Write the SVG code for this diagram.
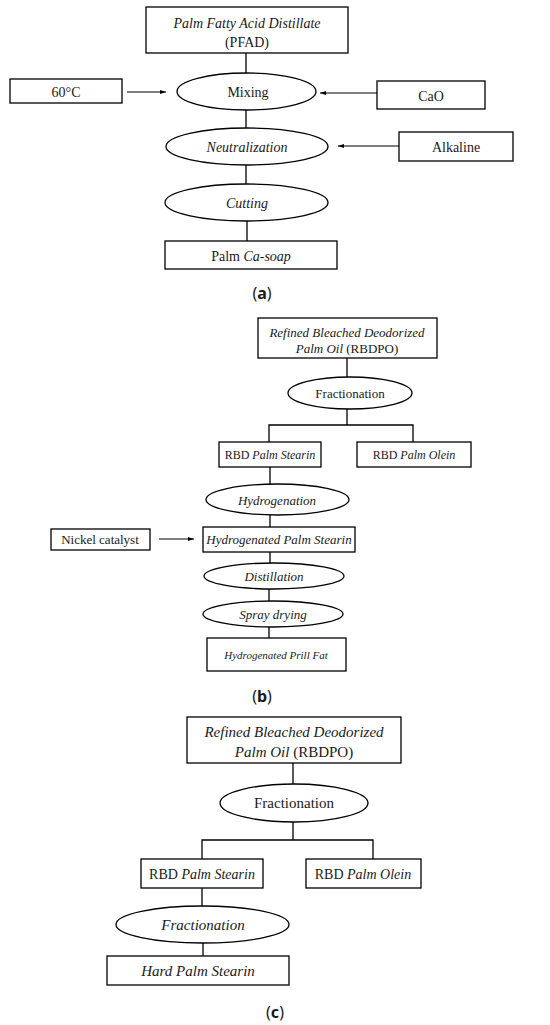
<svg xmlns="http://www.w3.org/2000/svg" width="550" height="1025" viewBox="0 0 550 1025">
<defs>
<marker id="ah" viewBox="0 0 10 10" refX="10" refY="5" markerWidth="6" markerHeight="6" orient="auto" markerUnits="userSpaceOnUse">
<path d="M0,1.5 L10,5 L0,8.5 Z" fill="#000"/>
</marker>
</defs>
<style>
.n{fill:#fff;stroke:#000;stroke-width:1.3}
.c{fill:none;stroke:#000;stroke-width:1.3}
.a{fill:none;stroke:#000;stroke-width:1.2;marker-end:url(#ah)}
text{font-family:"Liberation Serif","Times New Roman",serif;fill:#1a1a1a;text-anchor:middle;dominant-baseline:central}
.i{font-style:italic}
.s14{font-size:14px}
.s13{font-size:13px}
.s12{font-size:12px}
.s11{font-size:11px}
.s15{font-size:15px}
.lab{font-family:"Noto Sans","DejaVu Sans",sans-serif;font-size:16px}
</style>
<rect width="550" height="1025" fill="#fff"/>
<g id="connectors">
<!-- (a) -->
<line class="c" x1="246" y1="53" x2="246" y2="73"/>
<line class="c" x1="246" y1="110" x2="246" y2="128"/>
<line class="c" x1="246" y1="165" x2="246" y2="184"/>
<line class="c" x1="247" y1="221" x2="247" y2="241"/>
<line class="a" x1="127" y1="92" x2="166" y2="92"/>
<line class="a" x1="377" y1="93" x2="320" y2="93"/>
<line class="a" x1="399" y1="146" x2="338" y2="146"/>
<!-- (b) -->
<line class="c" x1="347" y1="358" x2="347" y2="377"/>
<line class="c" x1="347" y1="409" x2="347" y2="425"/>
<polyline class="c" points="269,442 269,425 413,425 413,442"/>
<line class="c" x1="270" y1="467" x2="270" y2="484"/>
<line class="c" x1="270" y1="515" x2="270" y2="527"/>
<line class="c" x1="270" y1="552" x2="270" y2="563"/>
<line class="c" x1="269" y1="589" x2="269" y2="601"/>
<line class="c" x1="269" y1="627" x2="269" y2="638"/>
<line class="a" x1="159" y1="539" x2="194" y2="539"/>
<!-- (c) -->
<line class="c" x1="293" y1="763" x2="293" y2="784"/>
<line class="c" x1="293" y1="822" x2="293" y2="840"/>
<polyline class="c" points="202,859 202,840 373,840 373,859"/>
<line class="c" x1="202" y1="888" x2="202" y2="906"/>
<line class="c" x1="203" y1="943" x2="203" y2="956"/>
</g>
<!-- (a) nodes -->
<g id="pfad"><rect class="n" x="146" y="7" width="202" height="46"/>
<text class="s14 i" x="247" y="23">Palm Fatty Acid Distillate</text>
<text class="s14" x="247" y="42">(PFAD)</text></g>
<g id="mixing"><ellipse class="n" cx="246.5" cy="91.5" rx="69.5" ry="18.5"/>
<text class="s14" x="248" y="92">Mixing</text></g>
<g id="temp"><rect class="n" x="10" y="79" width="112" height="24"/>
<text class="s14" x="66" y="92">60°C</text></g>
<g id="cao"><rect class="n" x="377" y="81" width="108" height="28"/>
<text class="s14" x="431" y="96">CaO</text></g>
<g id="neutralization"><ellipse class="n" cx="247" cy="146.5" rx="81" ry="18.5"/>
<text class="s14 i" x="247" y="147">Neutralization</text></g>
<g id="alkaline"><rect class="n" x="399" y="132" width="114" height="29"/>
<text class="s14" x="456" y="147">Alkaline</text></g>
<g id="cutting"><ellipse class="n" cx="246.5" cy="202.5" rx="81.5" ry="18.5"/>
<text class="s14 i" x="247" y="203">Cutting</text></g>
<g id="casoap"><rect class="n" x="165" y="241" width="172" height="28"/>
<text class="s14" x="251" y="256">Palm <tspan class="i">Ca-soap</tspan></text></g>
<g id="label-a"><text class="lab" x="262" y="293">(<tspan font-weight="bold">a</tspan>)</text></g>
<!-- (b) nodes -->
<g id="rbdpo-b"><rect class="n" x="258" y="318" width="179" height="40"/>
<text class="s13 i" x="347" y="332">Refined Bleached Deodorized</text>
<text class="s13" x="347" y="348"><tspan class="i">Palm Oil</tspan> (RBDPO)</text></g>
<g id="fract-b"><ellipse class="n" cx="350" cy="393" rx="62" ry="16"/>
<text class="s13" x="350" y="393">Fractionation</text></g>
<g id="stearin-b"><rect class="n" x="219" y="442" width="102" height="25"/>
<text class="s12" x="270" y="455">RBD <tspan class="i">Palm Stearin</tspan></text></g>
<g id="olein-b"><rect class="n" x="357" y="442" width="114" height="25"/>
<text class="s12" x="414" y="455">RBD <tspan class="i">Palm Olein</tspan></text></g>
<g id="hydrogenation"><ellipse class="n" cx="277.5" cy="499.5" rx="71.5" ry="15.5"/>
<text class="s13 i" x="277" y="500">Hydrogenation</text></g>
<g id="nickel"><rect class="n" x="51" y="529" width="99" height="21"/>
<text class="s13" x="100" y="539">Nickel catalyst</text></g>
<g id="hps"><rect class="n" x="203" y="527" width="152" height="25"/>
<text class="s13 i" x="279" y="539">Hydrogenated Palm Stearin</text></g>
<g id="distillation"><ellipse class="n" cx="274" cy="576" rx="70" ry="13"/>
<text class="s13 i" x="274" y="576">Distillation</text></g>
<g id="spray"><ellipse class="n" cx="273" cy="614" rx="70" ry="13"/>
<text class="s13 i" x="273" y="614">Spray drying</text></g>
<g id="prill"><rect class="n" x="207" y="638" width="139" height="33"/>
<text class="s11 i" x="276" y="655">Hydrogenated Prill Fat</text></g>
<g id="label-b"><text class="lab" x="262" y="696">(<tspan font-weight="bold">b</tspan>)</text></g>
<!-- (c) nodes -->
<g id="rbdpo-c"><rect class="n" x="187" y="717" width="214" height="46"/>
<text class="s15 i" x="294" y="732">Refined Bleached Deodorized</text>
<text class="s15" x="294" y="752"><tspan class="i">Palm Oil</tspan> (RBDPO)</text></g>
<g id="fract-c"><ellipse class="n" cx="294" cy="803" rx="74" ry="19"/>
<text class="s15" x="294" y="803">Fractionation</text></g>
<g id="stearin-c"><rect class="n" x="141" y="859" width="122" height="29"/>
<text class="s14" x="202" y="874">RBD <tspan class="i">Palm Stearin</tspan></text></g>
<g id="olein-c"><rect class="n" x="306" y="859" width="115" height="29"/>
<text class="s14" x="363" y="874">RBD <tspan class="i">Palm Olein</tspan></text></g>
<g id="fract2-c"><ellipse class="n" cx="202.5" cy="924.5" rx="86.5" ry="18.5"/>
<text class="s15 i" x="203" y="925">Fractionation</text></g>
<g id="hard"><rect class="n" x="107" y="956" width="182" height="29"/>
<text class="s15 i" x="198" y="971">Hard Palm Stearin</text></g>
<g id="label-c"><text class="lab" x="275" y="1012">(<tspan font-weight="bold">c</tspan>)</text></g>
</svg>
